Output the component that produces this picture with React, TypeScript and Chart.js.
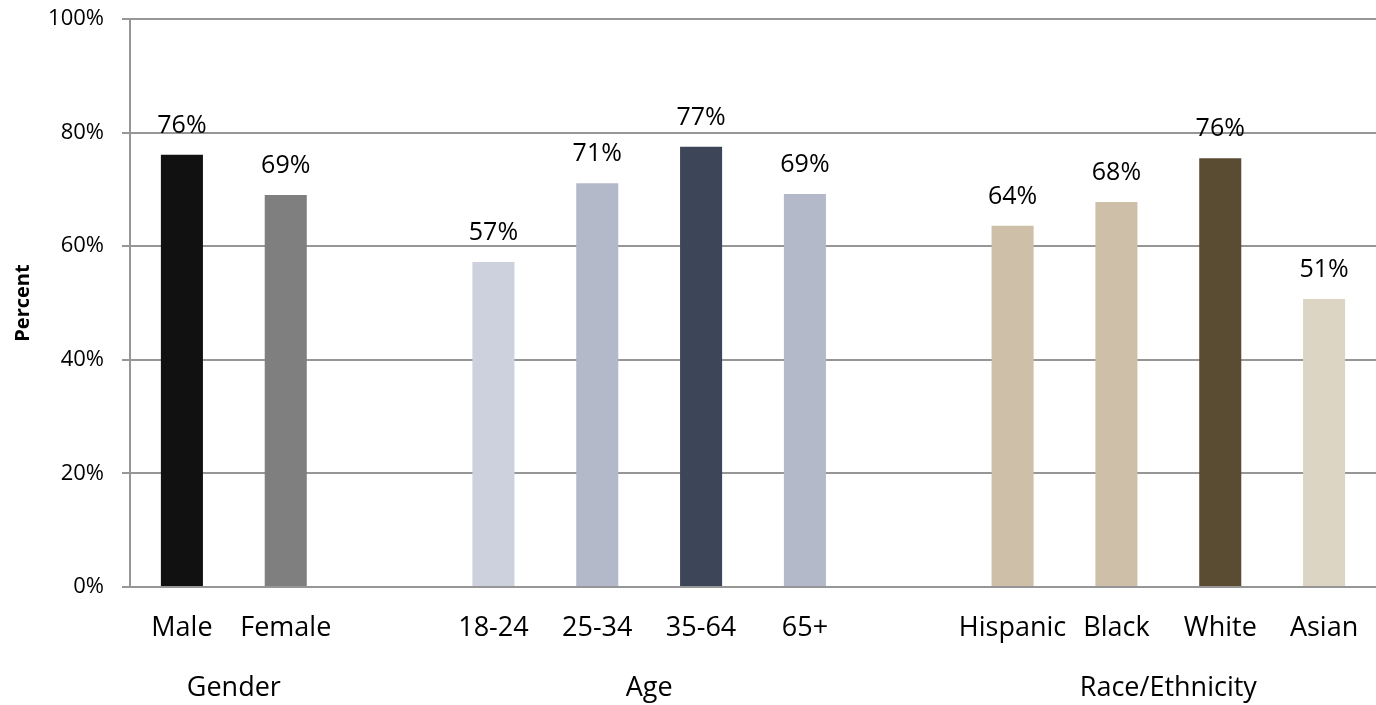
import React, { useEffect, useRef } from "react";
import { Chart, registerables } from "chart.js";

Chart.register(...registerables);

const categories = ["Male", "Female", "", "18-24", "25-34", "35-64", "65+", "", "Hispanic", "Black", "White", "Asian"];
const values: (number | null)[] = [76.1, 69.0, null, 57.2, 71.1, 77.5, 69.2, null, 63.6, 67.8, 75.5, 50.7];
const valueLabels = ["76%", "69%", "", "57%", "71%", "77%", "69%", "", "64%", "68%", "76%", "51%"];
const barColors = ["#111111", "#7f7f7f", "#ffffff", "#ccd1dd", "#b3b9c8", "#3d4659", "#b3b9c8", "#ffffff", "#cdbfa8", "#cdbfa8", "#5a4c33", "#ddd5c4"];
const groupNames = ["Gender", "Age", "Race/Ethnicity"];
const groupCenters = [0.5, 4.5, 9.5];
const yTicks = [0, 20, 40, 60, 80, 100];

const FONT = "'Open Sans', sans-serif";
const GRID = "#969696";

const labelsPlugin = {
  id: "labelsPlugin",
  afterDatasetsDraw(chart: any) {
    const ctx = chart.ctx;
    const meta = chart.getDatasetMeta(0);
    ctx.save();
    ctx.fillStyle = "#000";
    ctx.textAlign = "center";
    ctx.textBaseline = "middle";
    ctx.font = `25px ${FONT}`;
    meta.data.forEach((bar: any, i: number) => {
      if (values[i] == null) return;
      ctx.fillText(valueLabels[i], bar.x, bar.y - 29);
    });
    const xs = chart.scales.x;
    ctx.font = `27px ${FONT}`;
    groupNames.forEach((g, i) => {
      ctx.fillText(g, xs.getPixelForValue(groupCenters[i]), chart.chartArea.bottom + 101);
    });
    ctx.restore();
  },
};

export default function App() {
  const ref = useRef<HTMLCanvasElement>(null);
  useEffect(() => {
    if (!ref.current) return;
    const chart = new Chart(ref.current, {
      type: "bar",
      data: {
        labels: categories,
        datasets: [
          {
            data: values,
            backgroundColor: barColors,
            barPercentage: 0.405,
            categoryPercentage: 1,
          },
        ],
      },
      plugins: [labelsPlugin],
      options: {
        animation: false,
        responsive: true,
        maintainAspectRatio: false,
        layout: { padding: { top: 19, right: 0, bottom: 0, left: 0 } },
        plugins: { legend: { display: false }, tooltip: { enabled: false } },
        scales: {
          x: {
            grid: { display: false, drawTicks: false },
            border: { display: true, color: GRID, width: 2 },
            ticks: { color: "#000", font: { family: FONT, size: 27 }, padding: 25, maxRotation: 0, autoSkip: false },
            afterFit: (s: any) => {
              s.height = 118;
              s.paddingLeft = 0;
              s.paddingRight = 0;
            },
          },
          y: {
            min: 0,
            max: 100,
            afterBuildTicks: (s: any) => {
              s.ticks = yTicks.map((v) => ({ value: v }));
            },
            grid: { color: GRID, lineWidth: 2, tickLength: 8, drawTicks: true },
            border: { display: true, color: GRID, width: 2 },
            ticks: {
              color: "#000",
              font: { family: FONT, size: 22 },
              padding: 18,
              callback: (v: any) => `${v}%`,
            },
            title: {
              display: true,
              text: "Percent",
              color: "#000",
              font: { family: FONT, size: 20, weight: "bold" },
              padding: { top: 11, bottom: 0 },
            },
            afterFit: (s: any) => {
              s.width = 130;
              s.paddingTop = 0;
              s.paddingBottom = 0;
            },
          },
        },
      },
    });
    return () => chart.destroy();
  }, []);
  return (
    <div style={{ position: "absolute", left: 0, top: 0, width: 1376, height: 705, background: "#fff" }}>
      <canvas ref={ref} />
    </div>
  );
}
